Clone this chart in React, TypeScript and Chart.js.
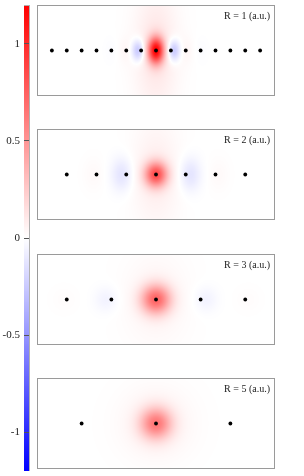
import React, { useEffect, useRef } from 'react';
import { Chart, registerables } from 'chart.js';

Chart.register(...registerables);

// ---- data ----
const COLOR_MIN = -1.2;
const COLOR_MAX = 1.2;
const COLORBAR_TICKS = [1, 0.5, 0, -0.5, -1];
const PANEL_LABELS = ['R = 1 (a.u.)', 'R = 2 (a.u.)', 'R = 3 (a.u.)', 'R = 5 (a.u.)'];
const X_MIN = -8;
const X_MAX = 8;
const Y_MIN = -3.06;
const Y_MAX = 3.06;

// atom sites along the chain (a.u.)
const R1_SITES = [-7, -6, -5, -4, -3, -2, -1, 0, 1, 2, 3, 4, 5, 6, 7];
const R2_SITES = [-6, -4, -2, 0, 2, 4, 6];
const R3_SITES = [-6, -3, 0, 3, 6];
const R5_SITES = [-5, 0, 5];

// density lobes (x-centre, amplitude, width along x, width along y)
const R1_LOBE_X = [0, 0, -1.2, 1.2, -2.05, 2.05, -3.05, 3.05];
const R1_LOBE_AMP = [1.1, 0.12, -0.3, -0.3, 0.03, 0.03, -0.015, -0.015];
const R1_LOBE_SX = [0.37, 1.0, 0.3, 0.3, 0.3, 0.3, 0.3, 0.3];
const R1_LOBE_SY = [0.62, 3.0, 0.5, 0.5, 0.6, 0.6, 0.6, 0.6];

const R2_LOBE_X = [0, 0, -2.3, 2.3, -4.2, 4.2];
const R2_LOBE_AMP = [0.78, 0.08, -0.13, -0.13, 0.025, 0.025];
const R2_LOBE_SX = [0.52, 1.1, 0.5, 0.5, 0.5, 0.5];
const R2_LOBE_SY = [0.58, 2.6, 0.8, 0.8, 0.8, 0.8];

const R3_LOBE_X = [0, 0, -3.35, 3.35, -6.2, 6.2];
const R3_LOBE_AMP = [0.68, 0.05, -0.06, -0.06, 0.015, 0.015];
const R3_LOBE_SX = [0.68, 1.5, 0.55, 0.55, 0.6, 0.6];
const R3_LOBE_SY = [0.68, 2.2, 0.6, 0.6, 0.6, 0.6];

const R5_LOBE_X = [0, 0];
const R5_LOBE_AMP = [0.58, 0.07];
const R5_LOBE_SX = [0.72, 1.65];
const R5_LOBE_SY = [0.72, 1.65];

const PANELS = [
  { sites: R1_SITES, lx: R1_LOBE_X, amp: R1_LOBE_AMP, sx: R1_LOBE_SX, sy: R1_LOBE_SY, label: PANEL_LABELS[0], top: 5 },
  { sites: R2_SITES, lx: R2_LOBE_X, amp: R2_LOBE_AMP, sx: R2_LOBE_SX, sy: R2_LOBE_SY, label: PANEL_LABELS[1], top: 129 },
  { sites: R3_SITES, lx: R3_LOBE_X, amp: R3_LOBE_AMP, sx: R3_LOBE_SX, sy: R3_LOBE_SY, label: PANEL_LABELS[2], top: 254 },
  { sites: R5_SITES, lx: R5_LOBE_X, amp: R5_LOBE_AMP, sx: R5_LOBE_SX, sy: R5_LOBE_SY, label: PANEL_LABELS[3], top: 378 },
];

const FONT = '"Liberation Serif", "DejaVu Serif", serif';

function bwr(v: number): [number, number, number] {
  if (v >= 0) {
    const t = Math.min(v / COLOR_MAX, 1);
    const c = Math.round(255 * (1 - t));
    return [255, c, c];
  }
  const t = Math.min(v / COLOR_MIN, 1);
  const c = Math.round(255 * (1 - t));
  return [c, c, 255];
}

function heatPlugin(p: any) {
  return {
    id: 'heat',
    beforeDatasetsDraw(chart: any) {
      const { ctx, chartArea: a, scales } = chart;
      const xs = scales.x;
      const ys = scales.y;
      const w = Math.round(a.right - a.left);
      const h = Math.round(a.bottom - a.top);
      const img = ctx.createImageData(w, h);
      for (let j = 0; j < h; j++) {
        const yv = ys.getValueForPixel(a.top + j + 0.5);
        for (let i = 0; i < w; i++) {
          const xv = xs.getValueForPixel(a.left + i + 0.5);
          let v = 0;
          for (let k = 0; k < p.lx.length; k++) {
            const dx = xv - p.lx[k];
            v += p.amp[k] * Math.exp(-(dx * dx) / (2 * p.sx[k] * p.sx[k]) - (yv * yv) / (2 * p.sy[k] * p.sy[k]));
          }
          const [r, g, b] = bwr(v);
          const o = (j * w + i) * 4;
          img.data[o] = r;
          img.data[o + 1] = g;
          img.data[o + 2] = b;
          img.data[o + 3] = 255;
        }
      }
      ctx.putImageData(img, a.left, a.top);
      ctx.save();
      ctx.strokeStyle = '#9a9a9a';
      ctx.lineWidth = 1;
      ctx.strokeRect(a.left + 0.5, a.top + 0.5, w - 1, h - 1);
      ctx.font = '10px ' + FONT;
      ctx.fillStyle = '#222';
      ctx.textAlign = 'right';
      ctx.textBaseline = 'middle';
      ctx.fillText(p.label, a.right - 5, a.top + 11);
      ctx.restore();
    },
  };
}

const colorbarPlugin = {
  id: 'cbar',
  beforeDraw(chart: any) {
    const { ctx, chartArea: a, scales } = chart;
    const ys = scales.y;
    ctx.save();
    for (let py = Math.floor(a.top); py < Math.ceil(a.bottom); py++) {
      const v = ys.getValueForPixel(py + 0.5);
      const [r, g, b] = bwr(v);
      ctx.fillStyle = `rgb(${r},${g},${b})`;
      ctx.fillRect(a.left, py, a.right - a.left, 1);
    }
    ctx.restore();
  },
  afterDraw(chart: any) {
    const { ctx, chartArea: a } = chart;
    ctx.save();
    ctx.strokeStyle = '#b0b0b0';
    ctx.lineWidth = 1;
    ctx.beginPath();
    ctx.moveTo(a.right - 0.5, a.top);
    ctx.lineTo(a.right - 0.5, a.bottom);
    ctx.moveTo(a.left, a.top + 0.5);
    ctx.lineTo(a.right, a.top + 0.5);
    ctx.stroke();
    ctx.restore();
  },
};

function Panel({ p }: { p: any }) {
  const ref = useRef<HTMLCanvasElement>(null);
  useEffect(() => {
    const chart = new Chart(ref.current!, {
      type: 'scatter',
      data: {
        datasets: [
          {
            data: p.sites.map((x: number) => ({ x, y: 0 })),
            pointRadius: 1.9,
            pointBackgroundColor: '#000',
            pointBorderWidth: 0,
          },
        ],
      },
      options: {
        responsive: false,
        animation: false,
        events: [],
        layout: { padding: 0, autoPadding: false },
        plugins: { legend: { display: false }, tooltip: { enabled: false } },
        scales: {
          x: { type: 'linear', min: X_MIN, max: X_MAX, display: false },
          y: { type: 'linear', min: Y_MIN, max: Y_MAX, display: false },
        },
      },
      plugins: [heatPlugin(p)],
    } as any);
    return () => chart.destroy();
  }, []);
  return (
    <canvas
      ref={ref}
      width={238}
      height={91}
      style={{ position: 'absolute', left: 37, top: p.top, width: 238, height: 91 }}
    />
  );
}

function ColorBar() {
  const ref = useRef<HTMLCanvasElement>(null);
  useEffect(() => {
    const chart = new Chart(ref.current!, {
      type: 'scatter',
      data: { datasets: [] },
      options: {
        responsive: false,
        animation: false,
        events: [],
        layout: { padding: { top: 5, bottom: 5, left: 0, right: 0 }, autoPadding: false },
        plugins: { legend: { display: false }, tooltip: { enabled: false } },
        scales: {
          x: { type: 'linear', min: 0, max: 1, display: false },
          y: {
            type: 'linear',
            position: 'left',
            min: COLOR_MIN,
            max: COLOR_MAX,
            afterBuildTicks: (s: any) => {
              s.ticks = COLORBAR_TICKS.map((v) => ({ value: v }));
            },
            afterFit: (s: any) => {
              s.width = 24;
              s.paddingTop = 0;
              s.paddingBottom = 0;
            },
            border: { display: false },
            grid: { drawOnChartArea: true, drawTicks: false, color: '#555', lineWidth: 1 },
            ticks: {
              padding: 4,
              color: '#222',
              font: { family: FONT, size: 11 },
              callback: (v: any) => String(v),
            },
          },
        },
      },
      plugins: [colorbarPlugin],
    } as any);
    return () => chart.destroy();
  }, []);
  return (
    <canvas
      ref={ref}
      width={30}
      height={476}
      style={{ position: 'absolute', left: 0, top: 0, width: 30, height: 476 }}
    />
  );
}

export default function App() {
  return (
    <div style={{ position: 'fixed', left: 0, top: 0, width: 304, height: 476, background: '#fff', overflow: 'hidden' }}>
      <ColorBar />
      {PANELS.map((p, i) => (
        <Panel key={i} p={p} />
      ))}
    </div>
  );
}
